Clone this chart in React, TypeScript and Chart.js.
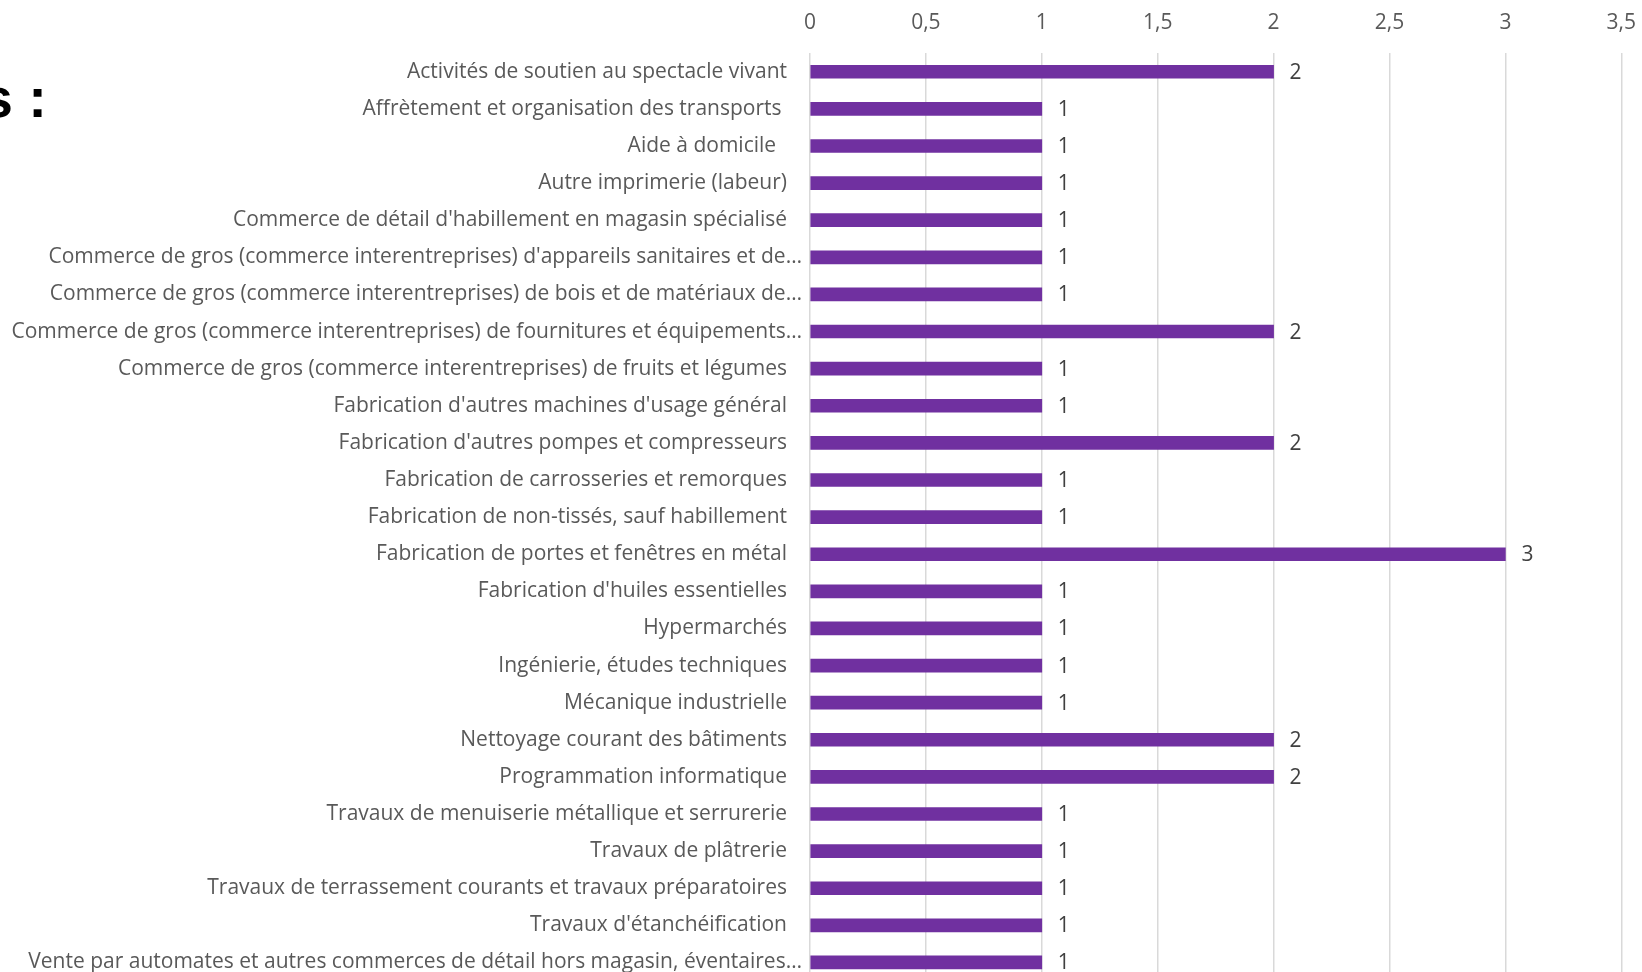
import React, { useEffect, useRef } from "react";
import { Chart, registerables } from "chart.js";

Chart.register(...registerables);

const categories: string[] = [
  "Activités de soutien au spectacle vivant",
  "Affrètement et organisation des transports ",
  "Aide à domicile  ",
  "Autre imprimerie (labeur)",
  "Commerce de détail d'habillement en magasin spécialisé",
  "Commerce de gros (commerce interentreprises) d'appareils sanitaires et de…",
  "Commerce de gros (commerce interentreprises) de bois et de matériaux de…",
  "Commerce de gros (commerce interentreprises) de fournitures et équipements…",
  "Commerce de gros (commerce interentreprises) de fruits et légumes",
  "Fabrication d'autres machines d'usage général",
  "Fabrication d'autres pompes et compresseurs",
  "Fabrication de carrosseries et remorques",
  "Fabrication de non-tissés, sauf habillement",
  "Fabrication de portes et fenêtres en métal",
  "Fabrication d'huiles essentielles",
  "Hypermarchés",
  "Ingénierie, études techniques",
  "Mécanique industrielle",
  "Nettoyage courant des bâtiments",
  "Programmation informatique",
  "Travaux de menuiserie métallique et serrurerie",
  "Travaux de plâtrerie",
  "Travaux de terrassement courants et travaux préparatoires",
  "Travaux d'étanchéification",
  "Vente par automates et autres commerces de détail hors magasin, éventaires…",
];

const counts: number[] = [
  2, 1, 1, 1, 1, 1, 1, 2, 1, 1, 2, 1, 1, 3, 1, 1, 1, 1, 2, 2, 1, 1, 1, 1, 1,
];

const axisMin = 0;
const axisMax = 3.5;
const axisStep = 0.5;

const titleText = "s :";

const FONT = "'Open Sans', Lato, sans-serif";
const FONT_SIZE = 21;
const TEXT_COLOR = "#595959";

export default function App() {
  const canvasRef = useRef<HTMLCanvasElement | null>(null);

  useEffect(() => {
    document.body.style.overflow = "hidden";
    const canvas = canvasRef.current;
    if (!canvas) return;

    const labelPlugin = {
      id: "customLabels",
      afterDraw(chart: any) {
        const ctx = chart.ctx;
        const yScale = chart.scales.y;
        const area = chart.chartArea;
        ctx.save();
        ctx.font = `${FONT_SIZE}px ${FONT}`;
        ctx.fillStyle = TEXT_COLOR;
        ctx.textBaseline = "middle";
        ctx.textAlign = "right";
        categories.forEach((lab, i) => {
          const y = yScale.getPixelForValue(i);
          const truncated = lab.endsWith("…");
          const x = area.left - (truncated ? 8 : 23);
          ctx.fillText(lab, x, y);
        });
        const meta = chart.getDatasetMeta(0);
        ctx.textAlign = "left";
        ctx.fillStyle = "#404040";
        meta.data.forEach((bar: any, i: number) => {
          ctx.fillText(String(counts[i]), bar.x + 16, bar.y + 1);
        });
        ctx.restore();
      },
    };

    const chart = new Chart(canvas, {
      type: "bar",
      data: {
        labels: categories,
        datasets: [
          {
            data: counts,
            backgroundColor: "#7030A0",
            borderWidth: 0,
            barThickness: 13,
          },
        ],
      },
      options: {
        indexAxis: "y",
        animation: false,
        responsive: false,
        maintainAspectRatio: false,
        layout: {
          padding: { left: 810, right: 9, top: 8, bottom: 13 },
        },
        plugins: {
          legend: { display: false },
          tooltip: { enabled: false },
          title: { display: false },
        },
        scales: {
          x: {
            position: "top",
            min: axisMin,
            max: axisMax,
            border: { display: false },
            grid: {
              color: "#D9D9D9",
              lineWidth: 1.5,
              drawTicks: false,
            },
            ticks: {
              stepSize: axisStep,
              padding: 18,
              color: TEXT_COLOR,
              font: { family: FONT, size: FONT_SIZE },
              callback: (v: any) => String(v).replace(".", ","),
            },
          },
          y: {
            display: false,
            grid: { display: false },
          },
        },
      },
      plugins: [labelPlugin],
    });

    return () => chart.destroy();
  }, []);

  return (
    <div
      style={{
        position: "fixed",
        left: 0,
        top: 0,
        width: 1642,
        height: 972,
        overflow: "hidden",
        background: "#fff",
      }}
    >
      <div
        style={{
          position: "absolute",
          right: 1642 - 47,
          top: 62,
          fontFamily: "'Liberation Sans', Arial, sans-serif",
          fontWeight: "bold",
          fontSize: 56,
          whiteSpace: "nowrap",
          color: "#000",
          lineHeight: "72px",
        }}
      >
        {titleText}
      </div>
      <canvas
        ref={canvasRef}
        width={1654}
        height={1010}
        style={{ position: "absolute", left: 0, top: -16, width: 1654, height: 1010 }}
      />
    </div>
  );
}
